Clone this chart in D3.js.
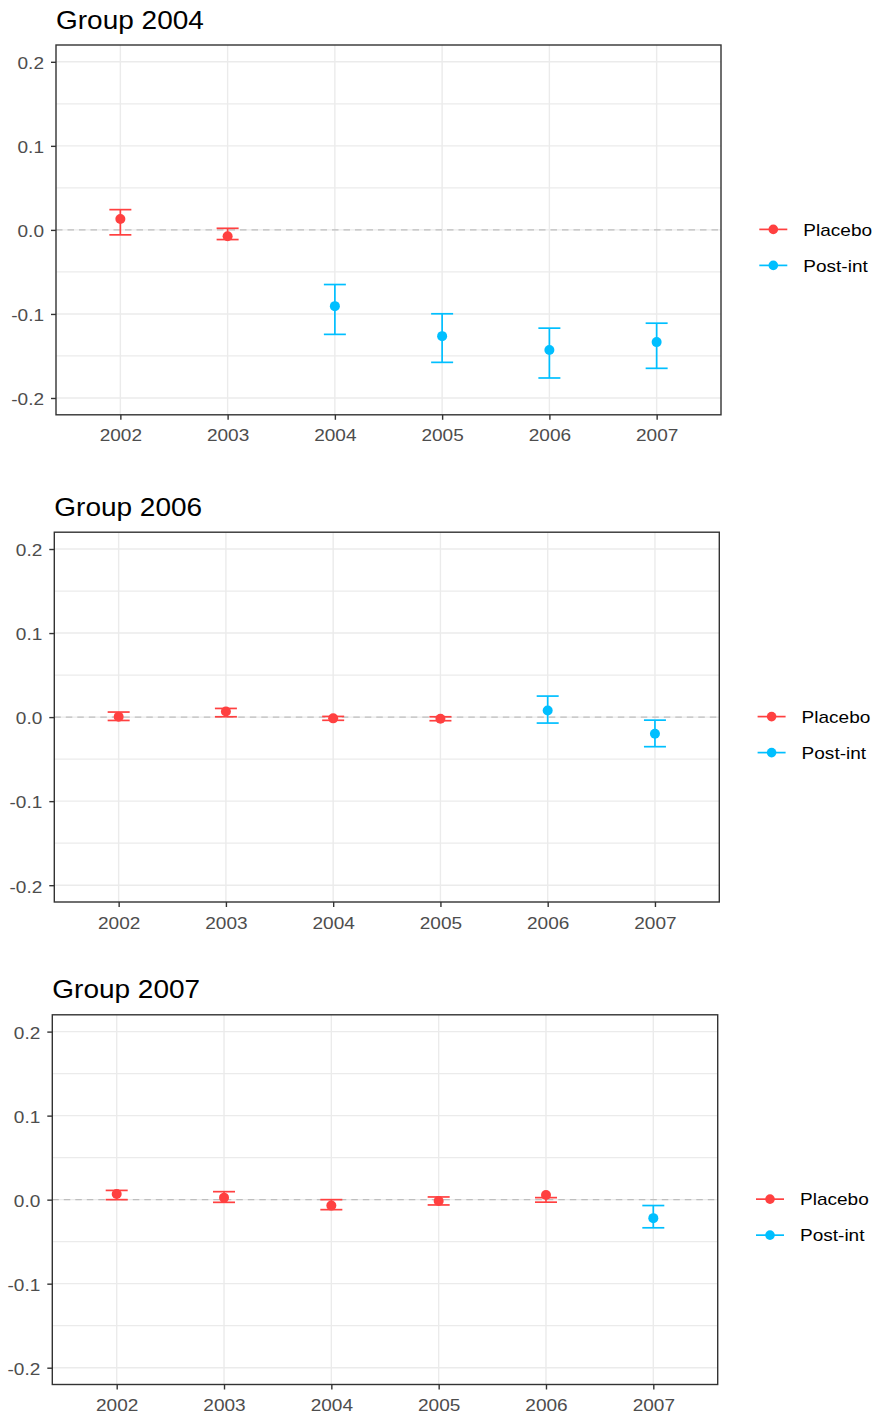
<!DOCTYPE html>
<html>
<head>
<meta charset="utf-8">
<script src="https://cdn.jsdelivr.net/npm/d3@7"></script>
<style>
  body { margin: 0; background: #ffffff; }
  svg { display: block; }
</style>
</head>
<body>
<svg id="chart" width="874" height="1413"></svg>
<script>
// ---------------- DATA ----------------
const years = ["2002", "2003", "2004", "2005", "2006", "2007"];
const groupTitles = ["Group 2004", "Group 2006", "Group 2007"];
const seriesNames = ["Placebo", "Post-int"];
const yTicks = [-0.2, -0.1, 0, 0.1, 0.2];
const yTickLabels = ["-0.2", "-0.1", "0.0", "0.1", "0.2"];
const yMinorTicks = [-0.15, -0.05, 0.05, 0.15];

// Group 2004
const g2004Est  = [0.013, -0.0076, -0.0907, -0.1264, -0.1430, -0.1335];
const g2004Lo   = [-0.0059, -0.0115, -0.1243, -0.1576, -0.1762, -0.1647];
const g2004Hi   = [0.0241, 0.0019, -0.0650, -0.0998, -0.1169, -0.1110];
const g2004Type = ["Placebo", "Placebo", "Post-int", "Post-int", "Post-int", "Post-int"];

// Group 2006
const g2006Est  = [0.0005, 0.0067, -0.0015, -0.0020, 0.0079, -0.0198];
const g2006Lo   = [-0.0040, 0.0004, -0.0038, -0.0043, -0.0071, -0.0352];
const g2006Hi   = [0.0060, 0.0103, 0.0008, 0.0004, 0.0250, -0.0036];
const g2006Type = ["Placebo", "Placebo", "Placebo", "Placebo", "Post-int", "Post-int"];

// Group 2007
const g2007Est  = [0.0067, 0.0024, -0.0071, -0.0016, 0.0055, -0.0220];
const g2007Lo   = [0.0000, -0.0032, -0.0119, -0.0063, -0.0030, -0.0335];
const g2007Hi   = [0.0110, 0.0095, 0.0000, 0.0032, 0.0024, -0.0070];
const g2007Type = ["Placebo", "Placebo", "Placebo", "Placebo", "Placebo", "Post-int"];

const groupsEst  = [g2004Est, g2006Est, g2007Est];
const groupsLo   = [g2004Lo, g2006Lo, g2007Lo];
const groupsHi   = [g2004Hi, g2006Hi, g2007Hi];
const groupsType = [g2004Type, g2006Type, g2007Type];

// ---------------- STYLE / LAYOUT ----------------
const colors = { "Placebo": "#FF4040", "Post-int": "#00BFFF" };
const FONT = "'Liberation Sans', Arial, sans-serif";
const SX = 1.12;          // horizontal stretch of text seen in reference
const panels = [
  { L: 56.0, T: 45.0,   R: 721.0, B: 414.8 },
  { L: 54.3, T: 532.2,  R: 719.3, B: 902.0 },
  { L: 52.3, T: 1014.8, R: 717.7, B: 1384.5 }
];
const yDomain = [-0.22, 0.22];

const svg = d3.select("#chart");
svg.append("rect").attr("width", 874).attr("height", 1413).attr("fill", "#fff");

panels.forEach((p, gi) => {
  const g = svg.append("g");
  const x = d3.scalePoint().domain(years).range([p.L, p.R]).padding(0.6);
  const y = d3.scaleLinear().domain(yDomain).range([p.B, p.T]);

  // grid: minor horizontal
  g.append("g").selectAll("line").data(yMinorTicks).join("line")
    .attr("x1", p.L).attr("x2", p.R)
    .attr("y1", d => y(d)).attr("y2", d => y(d))
    .attr("stroke", "#EBEBEB").attr("stroke-width", 1.2);
  // grid: major horizontal
  g.append("g").selectAll("line").data(yTicks).join("line")
    .attr("x1", p.L).attr("x2", p.R)
    .attr("y1", d => y(d)).attr("y2", d => y(d))
    .attr("stroke", "#EBEBEB").attr("stroke-width", 1.4);
  // grid: vertical
  g.append("g").selectAll("line").data(years).join("line")
    .attr("x1", d => x(d)).attr("x2", d => x(d))
    .attr("y1", p.T).attr("y2", p.B)
    .attr("stroke", "#EBEBEB").attr("stroke-width", 1.4);

  // zero dashed line
  g.append("line")
    .attr("x1", p.L).attr("x2", p.R)
    .attr("y1", y(0)).attr("y2", y(0))
    .attr("stroke", "#BEBEBE").attr("stroke-width", 1.3)
    .attr("stroke-dasharray", "6.5,5");

  // data rows
  const rows = years.map((yr, i) => ({
    year: yr, est: groupsEst[gi][i], lo: groupsLo[gi][i], hi: groupsHi[gi][i], type: groupsType[gi][i]
  }));

  const eb = g.append("g").selectAll("g").data(rows).join("g")
    .attr("stroke", d => colors[d.type]).attr("stroke-width", 1.7).attr("fill", "none");
  eb.append("line")
    .attr("x1", d => x(d.year)).attr("x2", d => x(d.year))
    .attr("y1", d => y(d.lo)).attr("y2", d => y(d.hi));
  eb.append("line")
    .attr("x1", d => x(d.year) - 11).attr("x2", d => x(d.year) + 11)
    .attr("y1", d => y(d.hi)).attr("y2", d => y(d.hi));
  eb.append("line")
    .attr("x1", d => x(d.year) - 11).attr("x2", d => x(d.year) + 11)
    .attr("y1", d => y(d.lo)).attr("y2", d => y(d.lo));

  g.append("g").selectAll("circle").data(rows).join("circle")
    .attr("cx", d => x(d.year)).attr("cy", d => y(d.est)).attr("r", 5)
    .attr("fill", d => colors[d.type]);

  // panel border
  g.append("rect")
    .attr("x", p.L).attr("y", p.T).attr("width", p.R - p.L).attr("height", p.B - p.T)
    .attr("fill", "none").attr("stroke", "#333333").attr("stroke-width", 1.4);

  // y axis
  const yAxis = d3.axisLeft(y).tickValues(yTicks).tickSize(5).tickFormat((d, i) => yTickLabels[i]);
  const ya = g.append("g").attr("transform", `translate(${p.L},0)`).call(yAxis);
  ya.select(".domain").remove();
  ya.selectAll(".tick line").attr("stroke", "#333333").attr("stroke-width", 1.4);
  ya.selectAll(".tick text")
    .attr("x", 0).attr("dy", "0.4em")
    .attr("transform", `translate(-12,0) scale(${SX},1)`)
    .attr("fill", "#4D4D4D").style("font-family", FONT).style("font-size", "17px");

  // x axis
  const xAxis = d3.axisBottom(x).tickSize(5);
  const xa = g.append("g").attr("transform", `translate(0,${p.B})`).call(xAxis);
  xa.select(".domain").remove();
  xa.selectAll(".tick line").attr("stroke", "#333333").attr("stroke-width", 1.4);
  xa.selectAll(".tick text")
    .attr("y", 0).attr("dy", 0)
    .attr("transform", `translate(0,26.5) scale(${SX},1)`)
    .attr("fill", "#4D4D4D").style("font-family", FONT).style("font-size", "17px");

  // title
  g.append("text")
    .attr("transform", `translate(${p.L},${p.T - 16.5}) scale(${SX},1)`)
    .attr("fill", "#000").style("font-family", FONT).style("font-size", "25px")
    .text(groupTitles[gi]);

  // legend
  const lx = p.R + 52.3;
  const ly0 = y(0) - 0.5;
  const leg = g.append("g").selectAll("g").data(seriesNames).join("g")
    .attr("transform", (d, i) => `translate(${lx},${ly0 + i * 36})`);
  leg.append("line").attr("x1", -14).attr("x2", 14).attr("y1", 0).attr("y2", 0)
    .attr("stroke", d => colors[d]).attr("stroke-width", 1.7);
  leg.append("circle").attr("r", 4.8).attr("fill", d => colors[d]);
  leg.append("text")
    .attr("transform", `translate(30,0) scale(${SX},1)`)
    .attr("dy", "0.36em")
    .attr("fill", "#000").style("font-family", FONT).style("font-size", "17px")
    .text(d => d);
});
</script>
</body>
</html>
